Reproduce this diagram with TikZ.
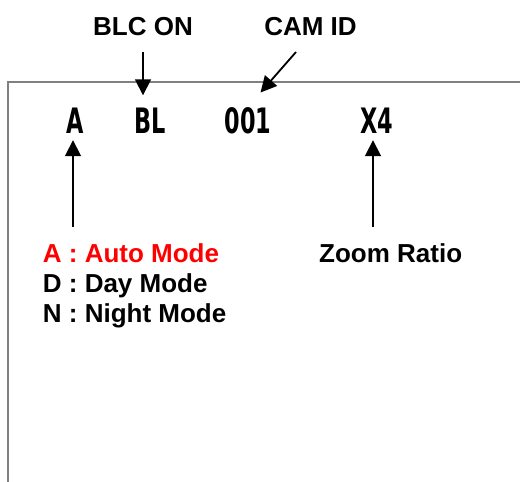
\documentclass[tikz,border=0pt]{standalone}
\usepackage{fontspec}
\usepackage{graphicx}
\setmainfont{Liberation Sans}
\newfontfamily\osdfont{DejaVu Sans}
\usetikzlibrary{arrows.meta}
\newcommand{\osd}[1]{\scalebox{0.64}[1]{#1}}
\begin{document}
\begin{tikzpicture}[x=1pt, y=-1pt,
    lbl/.style={inner sep=0, font=\fontsize{26}{30}\selectfont\bfseries},
    scr/.style={inner sep=0, anchor=base, font=\fontsize{35}{35}\selectfont\osdfont\bfseries},
    arr/.style={line width=1.8pt, -{Triangle[length=16pt,width=16pt]}}]
      \useasboundingbox (0,0) rectangle (520,482);
      \draw[gray, line width=1.3pt] (8,490) -- (8,82) -- (530,82);
      % on-screen display
      \node[scr] (scrA) at (75.5,133){\osd{A}};
      \node[scr] (bl) at (150,133){\osd{BL}};
      \node[scr] (id) at (248,133){\osd{001}};
      \node[scr] (zoom) at (376.5,133){\osd{X4}};
      % labels on top
      \node[lbl, anchor=base] (blc) at (143,35){BLC ON};
      \node[lbl, anchor=base] (cam) at (310.5,35){CAM ID};
      \draw[arr, shorten <=17pt, shorten >=12pt] (blc.south) -- (blc.south |- bl.north);
      \draw[arr, shorten <=22pt, shorten >=19pt] (cam.south) -- (id.north);
      % labels below
      \node[lbl, anchor=base west, text=red] (auto) at (42.7,262){A : Auto Mode};
      \node[lbl, anchor=base west] (day) at (42.7,292){D : Day Mode};
      \node[lbl, anchor=base west] (night) at (42.7,322){N : Night Mode};
      \node[lbl, anchor=base west] (ratio) at (319,262){Zoom Ratio};
      \draw[arr, shorten <=16pt, shorten >=7pt] ([xshift=-2.5pt]scrA.south |- auto.north) -- ([xshift=-2.5pt]scrA.south);
      \draw[arr, shorten <=16pt, shorten >=7pt] ([xshift=-3.5pt]zoom.south |- ratio.north) -- ([xshift=-3.5pt]zoom.south);
    \end{tikzpicture}
\end{document}
